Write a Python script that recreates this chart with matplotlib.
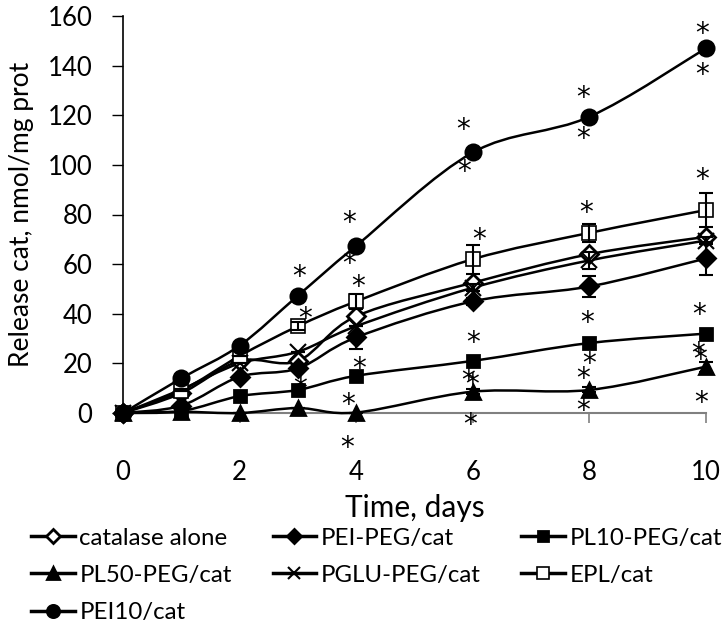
import numpy as np
import matplotlib
matplotlib.use("Agg")
from matplotlib import pyplot as plt
from matplotlib.path import Path
from matplotlib.patches import PathPatch
from matplotlib.lines import Line2D
from matplotlib.transforms import offset_copy

plt.rcParams['font.family'] = ['Lato', 'DejaVu Sans']

# time points, days
days = [0, 1, 2, 3, 4, 6, 8, 10]

# release, nmol/mg prot
catalase_alone = [0, 8, 21, 21, 39, 52.5, 64, 71]
pei_peg = [0, 3, 14.6, 18, 30.5, 45, 51, 62.3]
pl10_peg = [0, 0.8, 6.8, 9.3, 15, 21, 28.2, 32]
pl50_peg = [0, 0.5, 0, 2, 0.2, 8.6, 9.3, 18.7]
pglu_peg = [0, 9.5, 20, 24.7, 35, 50.5, 61.5, 69.5]
epl = [0, 9, 23, 35, 45, 62, 72.6, 81.8]
pei10 = [0, 14, 27.2, 47.3, 67.4, 105, 119.4, 147]

# error bars (only where visible)
pei_peg_err = [0, 0, 0, 0, 4.7, 1.5, 4.4, 6.7]
epl_err = [0, 0, 0, 1.5, 3, 5.8, 3.5, 6.7]
pglu_err = [0, 0, 0, 0, 0, 1.5, 3.5, 1.5]
pl50_err = [0, 0, 0, 0, 0, 1, 1, 2]

# significance asterisks (x, y)
star_x = [3.02, 3.12, 3.04, 3.88, 3.88, 4.03, 4.05, 3.86, 3.85,
          5.84, 5.85, 6.11, 6.01, 5.92, 5.99, 5.95,
          7.90, 7.90, 7.95, 7.96, 8.00, 7.90, 7.89,
          9.94, 9.94, 9.94, 9.88, 9.86, 9.90, 9.91]
star_y = [57.2, 40.4, 12.0, 79.1, 62.4, 53.2, 20.3, 5.5, -11.6,
          116.5, 99.6, 72.1, 30.5, 15.3, 13.7, -2.5,
          129.5, 113.0, 82.9, 38.6, 22.0, 16.0, 3.2,
          155.3, 138.7, 96.2, 41.8, 26.2, 23.8, 6.6]

series = [
    ("catalase alone", catalase_alone, "D", "white", 9, 2),
    ("PEI-PEG/cat", pei_peg, "D", "black", 9, 2),
    ("PL10-PEG/cat", pl10_peg, "s", "black", 9, 2),
    ("PL50-PEG/cat", pl50_peg, "^", "black", 10, 2),
    ("PGLU-PEG/cat", pglu_peg, "x", "none", 11, 1.5),
    ("EPL/cat", epl, "s", "white", 10, 1.2),
    ("PEI10/cat", pei10, "o", "black", 11, 2),
]


def smooth_path(xs, ys):
    pts = np.column_stack([xs, ys]).astype(float)
    verts = [pts[0]]
    codes = [Path.MOVETO]
    n = len(pts)
    for i in range(n - 1):
        p0 = pts[i - 1] if i > 0 else pts[i]
        p1 = pts[i]
        p2 = pts[i + 1]
        p3 = pts[i + 2] if i + 2 < n else pts[i + 1]
        c1 = p1 + (p2 - p0) / 6.0
        c2 = p2 - (p3 - p1) / 6.0
        verts += [c1, c2, p2]
        codes += [Path.CURVE4] * 3
    return Path(verts, codes)


fig = plt.figure(figsize=(7.25, 6.24), dpi=100)
ax = fig.add_axes([0.1697, 0.3381, 0.8041, 0.6363])

handles = {}
for name, vals, mk, fc, ms, mew in series:
    patch = PathPatch(smooth_path(days, vals), facecolor="none", edgecolor="black",
                      lw=1.8, transform=ax.transData, zorder=3, clip_on=False)
    ax.add_patch(patch)
    ax.plot(days, vals, linestyle="none", marker=mk, markersize=ms,
            markerfacecolor=fc, markeredgecolor="black", markeredgewidth=mew,
            zorder=4, clip_on=False)
    handles[name] = Line2D([], [], color="black", lw=2.5, marker=mk,
                           markersize=ms * 0.8, markerfacecolor=fc,
                           markeredgecolor="black", markeredgewidth=mew)

for vals, err in [(pei_peg, pei_peg_err), (epl, epl_err), (pglu_peg, pglu_err), (pl50_peg, pl50_err)]:
    ax.errorbar(days, vals, yerr=err, fmt="none", ecolor="black", elinewidth=1.5,
                capsize=5, capthick=1.5, zorder=5, clip_on=False)

star_tr = offset_copy(ax.transData, fig=fig, x=0, y=-4.3, units="points")
for sx, sy in zip(star_x, star_y):
    ax.text(sx, sy, "*", ha="center", va="center", fontsize=20, color="black",
            family="DejaVu Sans", transform=star_tr, clip_on=False, zorder=6)

ax.set_xlim(0, 10)
ax.set_ylim(0, 160)
ax.set_xticks(range(0, 11, 2))
ax.set_yticks(range(0, 161, 20))
ax.spines["top"].set_visible(False)
ax.spines["right"].set_visible(False)
ax.spines["bottom"].set_color("#808080")
ax.spines["bottom"].set_linewidth(1.5)
ax.spines["left"].set_linewidth(1.2)
ax.tick_params(axis="x", colors="#808080", labelcolor="black", length=7, width=1.2,
               labelsize=18.5, pad=27)
ax.tick_params(axis="y", length=8, width=1.0, labelsize=18.5, pad=14)

ax.set_xlabel("Time, days", fontsize=21.5, labelpad=6)
ax.set_ylabel("Release cat, nmol/mg prot", fontsize=19, labelpad=10)

order = ["catalase alone", "PL50-PEG/cat", "PEI10/cat", "PEI-PEG/cat",
         "PGLU-PEG/cat", "PL10-PEG/cat", "EPL/cat"]
fig.legend([handles[k] for k in order], order, ncol=3, loc="upper left",
           bbox_to_anchor=(0.03, 0.17), frameon=False, fontsize=17.3,
           handlelength=1.8, handletextpad=0.2, columnspacing=1.7,
           labelspacing=0.68, borderaxespad=0)

fig.savefig("out.png", dpi=100)
